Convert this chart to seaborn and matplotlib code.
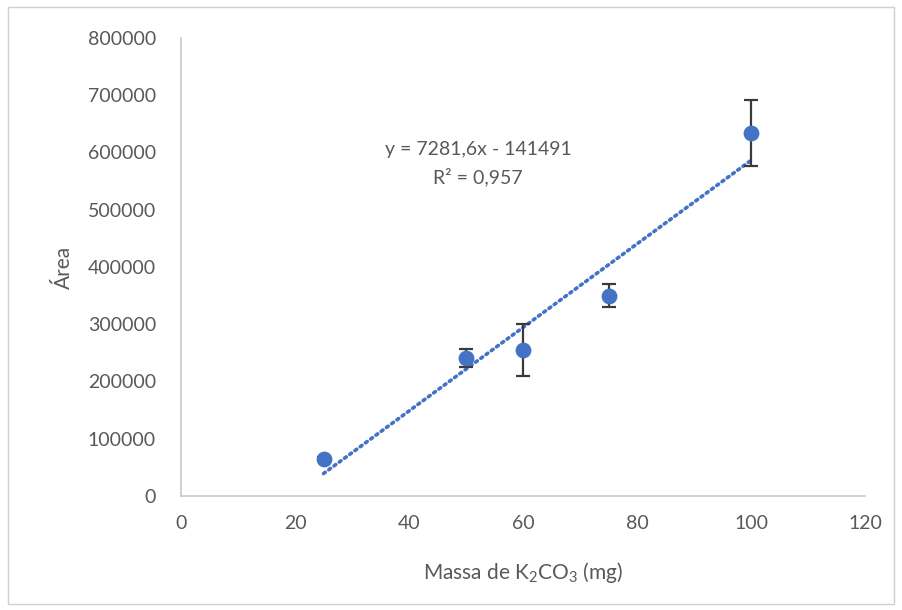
import matplotlib
matplotlib.use("Agg")
import matplotlib.pyplot as plt
import seaborn as sns
import numpy as np
import pandas as pd
from matplotlib.patches import Rectangle

# Data
massa = [25, 50, 60, 75, 100]
area = [65000, 241000, 255000, 350000, 634000]
erro = [2500, 16000, 46000, 20000, 57000]
x_ticks = [0, 20, 40, 60, 80, 100, 120]
y_ticks = [0, 100000, 200000, 300000, 400000, 500000, 600000, 700000, 800000]
equation = "y = 7281,6x - 141491"
r2_text = "R² = 0,957"

sns.set_theme(style="white")
plt.rcParams['font.family'] = ['Lato', 'DejaVu Sans']
plt.rcParams['mathtext.fontset'] = 'custom'
plt.rcParams['mathtext.rm'] = 'Lato'
plt.rcParams['mathtext.it'] = 'Lato'

gray = "#595959"
blue = "#4472C4"

df = pd.DataFrame({"massa": massa, "area": area, "erro": erro})

fig = plt.figure(figsize=(9.02, 6.10), dpi=100)
ax = fig.add_axes([0.2007, 0.187, 0.7583, 0.7507])

sns.regplot(data=df, x="massa", y="area", ax=ax, scatter=False, ci=None,
            truncate=True,
            line_kws=dict(color=blue, linestyle=(0, (0.6, 1.2)), linewidth=2.6,
                          dash_capstyle="round", zorder=2))
ax.errorbar(df["massa"], df["area"], yerr=df["erro"], fmt="none",
            ecolor="#3a3a3a", elinewidth=1.6, capsize=5, capthick=1.6, zorder=3)
sns.scatterplot(data=df, x="massa", y="area", ax=ax, color=blue, s=130,
                edgecolor=blue, linewidth=0, zorder=4, legend=False)

ax.set_xlim(0, 120)
ax.set_ylim(0, 800000)
ax.set_xticks(x_ticks)
ax.set_yticks(y_ticks)
ax.set_xticklabels([str(v) for v in x_ticks])
ax.set_yticklabels([str(v) for v in y_ticks])
ax.tick_params(axis="both", length=0, labelsize=14, colors=gray)
ax.tick_params(axis="x", pad=14)
ax.tick_params(axis="y", pad=18)

for side in ["top", "right"]:
    ax.spines[side].set_visible(False)
for side in ["left", "bottom"]:
    ax.spines[side].set_color("#c8c8c8")
    ax.spines[side].set_linewidth(1.2)

ax.set_xlabel("Massa de K$_\\mathregular{2}$CO$_\\mathregular{3}$ (mg)", fontsize=15,
              color=gray, labelpad=20)
ax.set_ylabel("Área", fontsize=15, color=gray, labelpad=10)

ax.text(0.434, 0.757, equation, transform=ax.transAxes, ha="center", va="center",
        fontsize=14, color=gray)
ax.text(0.434, 0.697, r2_text, transform=ax.transAxes, ha="center", va="center",
        fontsize=14, color=gray)

fig.patches.append(Rectangle((8 / 902, 6 / 610), 886 / 902, 597 / 610,
                             transform=fig.transFigure, fill=False,
                             edgecolor="#d0d0d0", linewidth=1.0))

fig.savefig("out.png", dpi=100, facecolor="white")
